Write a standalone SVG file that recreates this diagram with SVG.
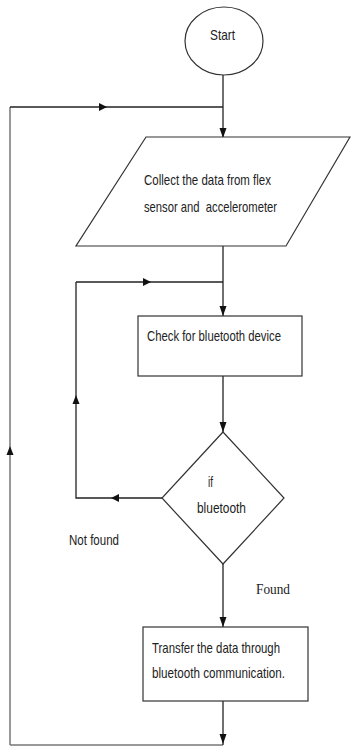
<svg xmlns="http://www.w3.org/2000/svg" width="351" height="746" viewBox="0 0 351 746">
<style>
.shape{fill:#fff;stroke:#333;stroke-width:1.2}
.ln{fill:none;stroke:#222;stroke-width:1.3}
.ln2{fill:none;stroke:#777;stroke-width:1.5}
.ah{fill:#111}
.t{font-family:"Liberation Sans",Arial,sans-serif;font-size:15px;fill:#222}
.ts{font-family:"Liberation Serif","Times New Roman",serif;font-size:15px;fill:#222}
</style>
<rect width="351" height="746" fill="#fff"/>
<g id="connectors">
<path class="ln" d="M223,75 V137"/>
<polygon class="ah" points="219.5,128 226.5,128 223,138"/>
<path class="ln2" d="M10,745 V107"/>
<path class="ln" d="M10,107 H223"/>
<polygon class="ah" points="99,103 99,111 107,107"/>
<polygon class="ah" points="6.5,455 13.5,455 10,446"/>
<path class="ln2" d="M10,745 H223" stroke="#aaa"/>
<path class="ln" d="M223,246 V316"/>
<polygon class="ah" points="219.5,306 226.5,306 223,316"/>
<path class="ln" d="M76,282 H223"/>
<polygon class="ah" points="143,278 143,286 151,282"/>
<path class="ln" d="M162,498 H76 V282"/>
<polygon class="ah" points="119,494 119,502 111,498"/>
<polygon class="ah" points="72.5,404 79.5,404 76,395"/>
<path class="ln" d="M223,376 V432"/>
<polygon class="ah" points="219.5,422 226.5,422 223,432"/>
<path class="ln" d="M223,564 V627"/>
<polygon class="ah" points="219.5,617 226.5,617 223,627"/>
<path class="ln" d="M223,701 V745"/>
<polygon class="ah" points="219.5,734 226.5,734 223,744"/>
</g>
<g id="start">
<ellipse class="shape" cx="224" cy="41" rx="39" ry="34"/>
<text class="t" x="210" y="40" textLength="25" lengthAdjust="spacingAndGlyphs">Start</text>
</g>
<g id="collect">
<polygon class="shape" points="146,137 350,137 286,246 76,246"/>
<text class="t" x="144" y="185" textLength="127" lengthAdjust="spacingAndGlyphs">Collect the data from flex</text>
<text class="t" x="144" y="212" textLength="133" lengthAdjust="spacingAndGlyphs" xml:space="preserve">sensor and  accelerometer</text>
</g>
<g id="check">
<rect class="shape" x="138" y="316" width="164" height="60"/>
<text class="t" x="147" y="341" textLength="134" lengthAdjust="spacingAndGlyphs">Check for bluetooth device</text>
</g>
<g id="decision">
<polygon class="shape" points="223,432 284,498 223,564 162,498"/>
<text class="t" x="208" y="487" textLength="5" lengthAdjust="spacingAndGlyphs">if</text>
<text class="t" x="197" y="513" textLength="49" lengthAdjust="spacingAndGlyphs">bluetooth</text>
</g>
<g id="labels">
<text class="t" x="69" y="545" textLength="50" lengthAdjust="spacingAndGlyphs">Not found</text>
<text class="ts" x="256" y="594" textLength="34" lengthAdjust="spacingAndGlyphs">Found</text>
</g>
<g id="transfer">
<rect class="shape" x="143" y="627" width="165" height="74"/>
<text class="t" x="152" y="653" textLength="128" lengthAdjust="spacingAndGlyphs">Transfer the data through</text>
<text class="t" x="152" y="678" textLength="133" lengthAdjust="spacingAndGlyphs">bluetooth communication.</text>
</g>
</svg>
